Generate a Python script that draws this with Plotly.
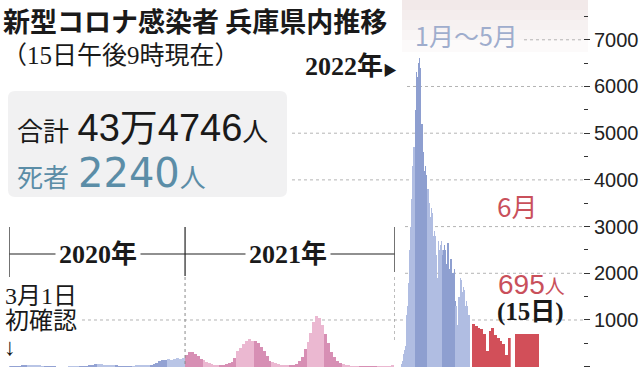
import calendar
from datetime import datetime, timedelta
import plotly.graph_objects as go

# ---------------- data (persons / day) ----------------
bins_per_month = 6
first_month_2020 = 3
cases_2020 = [
    3, 5, 8, 10, 15, 20,          # Mar
    25, 35, 40, 30, 20, 12,       # Apr
    8, 4, 2, 1, 0, 0,             # May
    0, 0, 1, 1, 2, 3,             # Jun
    3, 5, 10, 25, 40, 55,         # Jul
    60, 50, 45, 35, 25, 20,       # Aug
    15, 12, 10, 10, 12, 10,       # Sep
    12, 15, 20, 25, 25, 30,       # Oct
    30, 50, 80, 120, 140, 150,    # Nov
    160, 150, 170, 180, 170, 190, # Dec
]
cases_2021 = [
    250, 320, 310, 280, 220, 170,     # Jan
    150, 110, 80, 60, 45, 35,         # Feb
    40, 45, 55, 80, 110, 180,         # Mar
    330, 400, 480, 560, 600, 560,     # Apr
    560, 500, 420, 330, 220, 130,     # May
    110, 80, 60, 40, 30, 20,          # Jun
    15, 25, 60, 120, 200, 380,        # Jul
    520, 720, 950, 1080, 1050, 900,   # Aug
    700, 500, 320, 200, 120, 80,      # Sep
    50, 30, 18, 10, 7, 5,             # Oct
    5, 4, 3, 3, 4, 5,                 # Nov
    5, 5, 6, 8, 10, 30,               # Dec
]
cases_2022_jan = [40, 50, 60, 90, 120, 200, 280, 350, 330, 300, 450, 700, 900, 1100, 1300, 1150,
                  1000, 1800, 2200, 2500, 2900, 3000, 2600, 2300, 3600, 4000, 4300, 4500, 4700, 4200, 3600]
cases_2022_feb = [4800, 5500, 6000, 6300, 6200, 5000, 4400, 6000, 6500, 6600, 6400, 5600, 4800, 4000,
                  5200, 5000, 4800, 4600, 4300, 3700, 3200, 4200, 4300, 4100, 3900, 3600, 3000, 2600]
cases_2022_mar = [3800, 3700, 3500, 3400, 3200, 2600, 2200, 3400, 3300, 3200, 3000, 2800, 2300, 1900,
                  2900, 2800, 2600, 2400, 2300, 1800, 1500, 1900, 2700, 2600, 2500, 2300, 1700, 1500,
                  2600, 2700, 2500]
cases_2022_apr = [2400, 2300, 1700, 1400, 2500, 2600, 2500, 2400, 2200, 1600, 1300, 2400, 2650, 2500,
                  2300, 2100, 1500, 1200, 2200, 2300, 2100, 2000, 1800, 1300, 1100, 2000, 2100, 1900,
                  1400, 1000]
cases_2022_may = [1300, 1200, 900, 800, 700, 1000, 1500, 1400, 900, 1200, 1900, 1850, 1700, 1600, 1300,
                  900, 1700, 1650, 1500, 1400, 1300, 800, 700, 1400, 1300, 1200, 1100, 1000, 700, 600, 1100]
june_days = list(range(1, 15))
cases_june = [906, 880, 833, 800, 690, 326, 775, 833, 674, 616, 558, 486, 240, 616]
june_15_day = 15
june_15_value = 695

y_ticks = [0, 1000, 2000, 3000, 4000, 5000, 6000, 7000]

# ---------------- style ----------------
W, H = 640, 375
C_2020 = {"dark": "#93a2d3", "light": "#b9c5e6"}
C_2021 = {"dark": "#d78fb4", "light": "#ebb8d1"}
C_2022 = {"dark": "#8e9fd0", "light": "#b0bde2"}
C_JUNE = "#d24f59"
SANS = "Noto Sans CJK JP"
SERIF = "Liberation Serif, Noto Sans CJK JP"


def px(x):
    return x / W


def py(y):
    return 1 - y / H


def month_bins(year, month_start, values, n):
    xs, ws, ms = [], [], []
    for i, v in enumerate(values):
        m = month_start + i // n
        j = i % n
        days = calendar.monthrange(year, m)[1]
        binlen = days / n
        xs.append(datetime(year, m, 1) + timedelta(days=(j + 0.5) * binlen))
        ws.append(binlen * 86400000)
        ms.append(m)
    return xs, ws, ms


fig = go.Figure()

x20, w20, m20 = month_bins(2020, first_month_2020, cases_2020, bins_per_month)
x21, w21, m21 = month_bins(2021, 1, cases_2021, bins_per_month)
fig.add_trace(go.Bar(x=x20, y=cases_2020, width=w20,
                     marker=dict(color=[C_2020["dark"] if m % 2 else C_2020["light"] for m in m20], line_width=0),
                     xaxis="x", yaxis="y", hoverinfo="skip"))
fig.add_trace(go.Bar(x=x21, y=cases_2021, width=w21,
                     marker=dict(color=[C_2021["dark"] if m % 2 else C_2021["light"] for m in m21], line_width=0),
                     xaxis="x", yaxis="y", hoverinfo="skip"))

cases_2022 = cases_2022_jan + cases_2022_feb + cases_2022_mar + cases_2022_apr + cases_2022_may
x22 = [datetime(2022, 1, 1) + timedelta(days=d, hours=12) for d in range(len(cases_2022))]
c22 = [C_2022["light"] if d.month % 2 else C_2022["dark"] for d in x22]
fig.add_trace(go.Bar(x=x22, y=cases_2022, width=[86400000] * len(x22),
                     marker=dict(color=c22, line_width=0), xaxis="x2", yaxis="y", hoverinfo="skip"))

fig.add_trace(go.Bar(x=june_days, y=cases_june, width=1,
                     marker=dict(color=C_JUNE, line_width=0), xaxis="x3", yaxis="y", hoverinfo="skip"))
fig.add_trace(go.Bar(x=[june_15_day], y=[june_15_value], width=1,
                     marker=dict(color=C_JUNE, line_width=0), xaxis="x4", yaxis="y", hoverinfo="skip"))

shapes = []
# top-right soft shading
for h in [10, 20, 30, 40, 52]:
    shapes.append(dict(type="rect", xref="paper", yref="paper", x0=px(402), x1=px(588), y0=py(h), y1=1,
                       fillcolor="rgba(222,205,210,0.10)", line_width=0, layer="below"))
# dotted gridlines (start positions where visible)
grid_start = {1000: 82, 2000: 405, 3000: 405, 4000: 292, 5000: 292, 6000: 407, 7000: 524}
for v in y_ticks[1:]:
    shapes.append(dict(type="line", xref="paper", yref="y", x0=px(grid_start[v]), x1=px(583), y0=v, y1=v,
                       line=dict(color="#b4b4b4", width=1, dash="dot"), layer="below"))
# summary box
bx0, bx1, by0, by1, r = 8, 287, 91, 197, 7
path = (f"M {px(bx0 + r)} {py(by0)} L {px(bx1 - r)} {py(by0)} Q {px(bx1)} {py(by0)} {px(bx1)} {py(by0 + r)} "
        f"L {px(bx1)} {py(by1 - r)} Q {px(bx1)} {py(by1)} {px(bx1 - r)} {py(by1)} "
        f"L {px(bx0 + r)} {py(by1)} Q {px(bx0)} {py(by1)} {px(bx0)} {py(by1 - r)} "
        f"L {px(bx0)} {py(by0 + r)} Q {px(bx0)} {py(by0)} {px(bx0 + r)} {py(by0)} Z")
shapes.append(dict(type="path", xref="paper", yref="paper", path=path, fillcolor="#f1f1f2",
                   line_width=0, layer="below"))
# year bracket
shapes.append(dict(type="line", xref="x", yref="paper", x0="2020-03-01", x1="2022-01-01",
                   y0=py(254), y1=py(254), line=dict(color="#222", width=1.2)))
for d, y_bot in [("2020-03-01", 277), ("2021-01-01", 276), ("2022-01-01", 272)]:
    shapes.append(dict(type="line", xref="x", yref="paper", x0=d, x1=d, y0=py(227), y1=py(y_bot),
                       line=dict(color="#222", width=1.2)))
for d, y_bot in [("2021-01-01", 366), ("2022-01-01", 342)]:
    shapes.append(dict(type="line", xref="x", yref="paper", x0=d, x1=d, y0=py(277), y1=py(y_bot),
                       line=dict(color="#8a8a8a", width=1, dash="dot")))

ann = []


def note(text, x, y, size, color="#1a1a1a", family=SANS, xanchor="left", yanchor="middle", bg=None):
    a = dict(text=text, x=px(x), y=py(y), xref="paper", yref="paper", showarrow=False,
             xanchor=xanchor, yanchor=yanchor, font=dict(size=size, color=color, family=family))
    if bg:
        a.update(bgcolor=bg, borderpad=3)
    ann.append(a)


note("<b>新型コロナ感染者 兵庫県内推移</b>", 1, 20, 27)
note("（15日午後9時現在）", 0, 55, 25, family=SERIF)
note("<span style='font-size:26px'>合計</span> "
     "<span style='font-family:Liberation Sans, Noto Sans CJK JP;font-size:38px'>43万4746</span>"
     "<span style='font-size:26px'>人</span>", 15, 125, 38)
note("<span style='font-size:26px'>死者</span> "
     "<span style='font-family:DejaVu Sans;font-size:40px'>2240</span>"
     "<span style='font-size:26px'>人</span>", 15, 170, 40, color="#5b8da7")
note("<b>2022年</b><span style='font-size:14px'>▶</span>", 399, 67, 26, family=SERIF, xanchor="right")
note("1月～5月", 413, 35, 25, color="#9fadcd")
note("6月", 495, 205, 26, color="#c9505b")
note("<span style='font-family:Liberation Sans;font-size:28px'>695</span>人", 496, 284, 20, color="#c9505b")
note("<b>(15日)</b>", 495, 312, 25, family=SERIF)
note("<b>2020年</b>", 98, 254, 26, family=SERIF, xanchor="center", bg="white")
note("<b>2021年</b>", 288, 254, 26, family=SERIF, xanchor="center", bg="white")
note("3月1日", 3, 296, 24, family=SERIF)
note("初確認", 3, 321, 24, family=SERIF)
note("↓", 2, 347, 24, family=SERIF)

hidden = dict(visible=False, showgrid=False, zeroline=False, fixedrange=True)
fig.update_layout(
    width=W, height=H, margin=dict(l=0, r=0, t=0, b=0),
    paper_bgcolor="white", plot_bgcolor="rgba(0,0,0,0)",
    showlegend=False, barmode="overlay", bargap=0,
    xaxis=dict(type="date", domain=[px(9.3), px(394.7)], range=["2020-03-01", "2022-01-01"], anchor="y", **hidden),
    xaxis2=dict(type="date", domain=[px(401), px(470)], range=["2022-01-01", "2022-06-01"], anchor="y", **hidden),
    xaxis3=dict(domain=[px(472), px(510.7)], range=[0.5, 14.5], anchor="y", **hidden),
    xaxis4=dict(domain=[px(514.7), px(539)], range=[14.5, 15.5], anchor="y", **hidden),
    yaxis=dict(domain=[0, 1], range=[-178, 7852], anchor="free", position=px(583), side="right",
               tickvals=y_ticks, tickformat="d", ticks="outside", ticklen=6, tickwidth=1.2, tickcolor="#333",
               showgrid=False, zeroline=False, showline=False, fixedrange=True,
               tickfont=dict(family="Liberation Sans", size=20, color="#222"),
               minor=dict(dtick=500, tick0=0, ticks="outside", ticklen=4, tickwidth=1.2, tickcolor="#333",
                          showgrid=False)),
    shapes=shapes, annotations=ann,
)

fig.write_html("out.html")
